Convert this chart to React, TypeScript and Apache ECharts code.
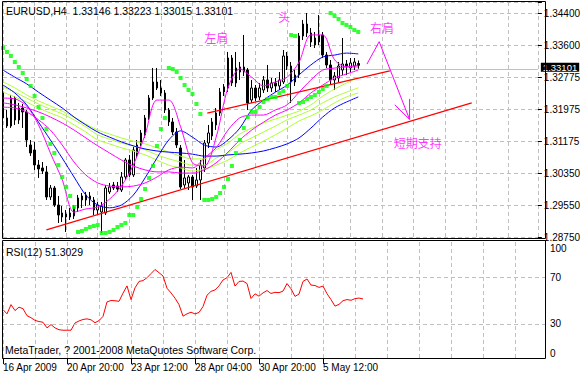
import React, { useEffect, useRef } from 'react';
import * as echarts from 'echarts';

const FONT = '"Liberation Sans Narrow", "Liberation Sans", Arial, sans-serif';
const CJK = '"Noto Sans CJK SC", sans-serif';
const GRID = '#c0c0c0';

const titleText = 'EURUSD,H4  1.33146 1.33223 1.33015 1.33101';
const rsiTitle = 'RSI(12) 51.3029';
const copyright = 'MetaTrader, ? 2001-2008 MetaQuotes Software Corp.';
const priceLabels = ['1.28750', '1.29550', '1.30350', '1.31175', '1.31975', '1.32775', '1.33600', '1.34400'];
const dateLabels = ['16 Apr 2009', '20 Apr 20:00', '23 Apr 12:00', '28 Apr 04:00', '30 Apr 20:00', '5 May 12:00'];
const dateTickBars = [0, 16, 32, 48, 64, 80];
const rsiTicks = [100, 70, 30, 0];
const rsiLevels = [70, 30];
const lastPrice = 1.33101;

const opens = [
  1.32425, 1.31766, 1.31563, 1.32273, 1.31715, 1.32019, 1.31918, 1.31082, 1.30955, 1.30575,
  1.30499, 1.30398, 1.29764, 1.29992, 1.29561, 1.29359, 1.29257, 1.29359, 1.29283, 1.29485,
  1.29688, 1.29688, 1.29789, 1.29688, 1.29435, 1.29384, 1.29359, 1.29891, 1.30068, 1.30043,
  1.29941, 1.30271, 1.30702, 1.30322, 1.30828, 1.31132, 1.31335, 1.31766, 1.32273, 1.32678,
  1.32526, 1.32399, 1.31969, 1.31665, 1.31411, 1.31006, 1.30068, 1.30119, 1.30271, 1.30043,
  1.30195, 1.30499, 1.31132, 1.3131, 1.31589, 1.31893, 1.32425, 1.32526, 1.33286, 1.32653,
  1.32931, 1.33058, 1.32982, 1.32222, 1.32526, 1.32298, 1.32475, 1.32729, 1.32526, 1.32653,
  1.32577, 1.32678, 1.33337, 1.33083, 1.32678, 1.32855, 1.33843, 1.34147, 1.33919, 1.33615,
  1.33691, 1.33869, 1.33362, 1.33109, 1.32729, 1.32779, 1.32982, 1.33134, 1.33033, 1.33083,
  1.33146,
];
const closes = [
  1.31766, 1.31563, 1.32273, 1.31715, 1.32019, 1.31918, 1.31208, 1.30879, 1.30575, 1.30474,
  1.30423, 1.29764, 1.29992, 1.29561, 1.29308, 1.29257, 1.29333, 1.29257, 1.29511, 1.29739,
  1.29789, 1.29815, 1.29713, 1.29435, 1.29561, 1.29536, 1.29992, 1.30017, 1.29992, 1.29967,
  1.30271, 1.30702, 1.30322, 1.30955, 1.31082, 1.31386, 1.31766, 1.32273, 1.32678, 1.32526,
  1.32399, 1.31969, 1.31665, 1.31411, 1.31082, 1.30017, 1.30246, 1.30271, 1.30017, 1.30195,
  1.30575, 1.31132, 1.31386, 1.31665, 1.31893, 1.32425, 1.32551, 1.33286, 1.32653, 1.33033,
  1.33058, 1.32931, 1.32146, 1.32526, 1.32273, 1.32526, 1.32729, 1.32526, 1.32653, 1.32577,
  1.32729, 1.33337, 1.33083, 1.32678, 1.32855, 1.33843, 1.34147, 1.33919, 1.33691, 1.33793,
  1.33869, 1.33362, 1.33109, 1.32729, 1.3283, 1.33083, 1.33134, 1.33083, 1.3316, 1.33185,
  1.33101,
];
const highs = [
  1.32526, 1.31969, 1.32349, 1.32323, 1.32146, 1.32121, 1.31969, 1.31208, 1.31158, 1.30702,
  1.30651, 1.3055, 1.30068, 1.30043, 1.29789, 1.29536, 1.29435, 1.29485, 1.29561, 1.29815,
  1.29865, 1.29891, 1.29891, 1.29764, 1.29637, 1.29637, 1.30068, 1.30119, 1.30144, 1.30144,
  1.30398, 1.30752, 1.30828, 1.31031, 1.31208, 1.31462, 1.31842, 1.32349, 1.33033, 1.33033,
  1.32729, 1.32475, 1.32019, 1.31766, 1.31513, 1.31082, 1.30702, 1.30322, 1.30322, 1.30499,
  1.30702, 1.31208, 1.31589, 1.31766, 1.32019, 1.32526, 1.32627, 1.33438, 1.33362, 1.33438,
  1.33185, 1.33869, 1.33033, 1.32729, 1.32602, 1.32653, 1.3283, 1.33109, 1.32779, 1.32779,
  1.32931, 1.33489, 1.33438, 1.33185, 1.32982, 1.33919, 1.34249, 1.34426, 1.34046, 1.33945,
  1.34375, 1.33945, 1.33438, 1.33235, 1.32931, 1.33185, 1.33793, 1.33235, 1.33286, 1.33286,
  1.33223,
];
const lows = [
  1.31589, 1.31513, 1.31513, 1.31589, 1.31614, 1.31513, 1.31031, 1.30803, 1.30448, 1.30246,
  1.30347, 1.29688, 1.29688, 1.29511, 1.29105, 1.2913, 1.28877, 1.29181, 1.29207, 1.29384,
  1.29485, 1.29536, 1.29561, 1.29308, 1.29333, 1.28852, 1.29308, 1.2984, 1.29941, 1.29891,
  1.29891, 1.30195, 1.30271, 1.30271, 1.30752, 1.31056, 1.31259, 1.31715, 1.32222, 1.32475,
  1.32323, 1.31893, 1.31563, 1.31335, 1.31006, 1.29967, 1.29992, 1.29941, 1.29688, 1.29992,
  1.29688, 1.30398, 1.31006, 1.31208, 1.31462, 1.31817, 1.32323, 1.32425, 1.32577, 1.32551,
  1.32729, 1.3283, 1.31969, 1.32146, 1.32197, 1.32222, 1.32399, 1.32425, 1.32425, 1.32425,
  1.32475, 1.32627, 1.32982, 1.32146, 1.32577, 1.32779, 1.33742, 1.33818, 1.33565, 1.33539,
  1.33615, 1.33286, 1.33033, 1.32602, 1.32475, 1.32678, 1.32855, 1.32855, 1.32931, 1.32982,
  1.33015,
];
const sar = [
  1.33539, 1.33438, 1.33337, 1.33185, 1.33058, 1.32906, 1.32754, 1.32577, 1.32323, 1.32045,
  1.31766, 1.31487, 1.31107, 1.30879, 1.30575, 1.30271, 1.30017, 1.29789, 1.29511, 1.28877,
  1.28903, 1.28953, 1.29004, 1.29029, 1.29055, 1.28852, 1.28852, 1.28877, 1.28928, 1.29004,
  1.29055, 1.29105, 1.29308, 1.29308, 1.29511, 1.29713, 1.29967, 1.30246, 1.3055, 1.31056,
  1.31487, 1.31766, 1.33033, 1.33008, 1.32931, 1.32779, 1.32602, 1.32475, 1.32374, 1.32121,
  1.31867, 1.29688, 1.29688, 1.29713, 1.29764, 1.29865, 1.30017, 1.3022, 1.3055, 1.30879,
  1.31208, 1.31513, 1.31791, 1.31918, 1.31918, 1.32045, 1.32171, 1.32247, 1.32298, 1.32298,
  1.32399, 1.3245, 1.32577, 1.33869, 1.33843, 1.32146, 1.32171, 1.32247, 1.32298, 1.32349,
  1.32425, 1.32501, 1.32577, 1.34426, 1.3435, 1.34275, 1.34173, 1.34123, 1.34072, 1.33996,
  1.33945,
];
const rsi = [
  42.2, 38.6, 46.5, 41.4, 44.3, 43, 37, 35.3, 33, 32,
  31.4, 26.6, 29.4, 26.6, 25, 24.6, 24.6, 24.6, 30.8, 32.5,
  33.8, 34.3, 33.5, 31, 32.8, 36.4, 48.8, 50, 49.8, 49.3,
  56.3, 62.5, 50.8, 60.8, 66.3, 67, 69.5, 73, 76.5, 73.8,
  71, 60.5, 56.5, 52, 46.5, 36.6, 38.6, 40, 38.5, 39.8,
  44.8, 54.5, 57.8, 59, 62.5, 67.5, 69.5, 74, 62.3, 66.3,
  66.6, 64.5, 51.7, 55.7, 53.7, 56.5, 58.5, 56, 57, 56.7,
  58, 64.5, 60, 53.5, 55.5, 66.3, 68.4, 63.2, 62.8, 61.2,
  62.3, 55.8, 50.8, 45.2, 46.7, 49.8, 50.8, 50.2, 51.6, 52.1,
  51.3,
];

const maBars = [0, 3, 6, 9, 12, 15, 18, 21, 24, 27, 30, 33, 36, 39, 42, 45, 48, 51, 54, 57, 60, 63, 66, 69, 72, 75, 78, 81, 84, 87, 90];
const maMagentaFast = [1.3227, 1.3225, 1.3207, 1.3159, 1.3088, 1.3020, 1.2938, 1.2946, 1.2951, 1.2971, 1.3004, 1.3057, 1.3134, 1.3222, 1.3222, 1.3154, 1.3063, 1.3055, 1.3128, 1.3253, 1.3301, 1.3280, 1.3258, 1.3268, 1.3280, 1.3318, 1.3387, 1.3387, 1.3324, 1.3306, 1.3311];
const maMagentaMid = [1.3204, 1.3202, 1.3192, 1.3172, 1.3146, 1.3108, 1.3065, 1.3032, 1.3012, 1.3004, 1.3002, 1.3004, 1.3012, 1.3027, 1.3045, 1.3052, 1.3050, 1.3075, 1.3101, 1.3146, 1.3177, 1.3184, 1.3184, 1.3197, 1.3210, 1.3242, 1.3273, 1.3298, 1.3303, 1.3306, 1.3306];
const maMagentaSlow = [1.3215, 1.3210, 1.3202, 1.3192, 1.3179, 1.3164, 1.3146, 1.3126, 1.3106, 1.3088, 1.3070, 1.3055, 1.3045, 1.3040, 1.3040, 1.3037, 1.3037, 1.3045, 1.3063, 1.3090, 1.3121, 1.3146, 1.3166, 1.3184, 1.3197, 1.3215, 1.3240, 1.3260, 1.3278, 1.3288, 1.3298];
const maGreen1 = [1.3268, 1.3253, 1.3235, 1.3220, 1.3207, 1.3194, 1.3179, 1.3161, 1.3146, 1.3136, 1.3126, 1.3118, 1.3111, 1.3101, 1.3090, 1.3080, 1.3073, 1.3073, 1.3096, 1.3113, 1.3136, 1.3151, 1.3164, 1.3174, 1.3184, 1.3194, 1.3210, 1.3232, 1.3250, 1.3265, 1.3280];
const maGreen2 = [1.3255, 1.3242, 1.3227, 1.3212, 1.3199, 1.3187, 1.3172, 1.3154, 1.3134, 1.3123, 1.3113, 1.3106, 1.3096, 1.3083, 1.3073, 1.3065, 1.3057, 1.3057, 1.3075, 1.3088, 1.3111, 1.3126, 1.3141, 1.3156, 1.3172, 1.3184, 1.3197, 1.3215, 1.3230, 1.3242, 1.3253];
const maGreen3 = [1.3242, 1.3230, 1.3217, 1.3202, 1.3189, 1.3177, 1.3159, 1.3141, 1.3121, 1.3111, 1.3101, 1.3093, 1.3083, 1.3070, 1.3057, 1.3050, 1.3042, 1.3047, 1.3057, 1.3070, 1.3088, 1.3103, 1.3118, 1.3134, 1.3151, 1.3169, 1.3182, 1.3197, 1.3215, 1.3230, 1.3240];
const maBlueFast = [1.3260, 1.3240, 1.3210, 1.3166, 1.3121, 1.3075, 1.3027, 1.2981, 1.2956, 1.2949, 1.2956, 1.2981, 1.3025, 1.3075, 1.3121, 1.3144, 1.3128, 1.3108, 1.3103, 1.3121, 1.3151, 1.3197, 1.3222, 1.3242, 1.3260, 1.3286, 1.3311, 1.3331, 1.3336, 1.3341, 1.3339];
const maBlueSlow = [1.3298, 1.3280, 1.3263, 1.3242, 1.3222, 1.3202, 1.3179, 1.3159, 1.3141, 1.3128, 1.3116, 1.3106, 1.3098, 1.3093, 1.3090, 1.3088, 1.3085, 1.3080, 1.3080, 1.3083, 1.3085, 1.3088, 1.3093, 1.3101, 1.3111, 1.3126, 1.3151, 1.3179, 1.3202, 1.3217, 1.3230];

const trendLow = [[11, 1.2893], [118.75, 1.3215]];
const trendHigh = [[51.75, 1.3189], [98, 1.3296]];
const arrowPath = [[92.2, 1.3313], [95.3, 1.3370], [103, 1.3173]];
const arrowHeadA = [[103, 1.3225], [103, 1.3173]];
const arrowHeadB = [[99.25, 1.3210], [103, 1.3173]];
const noteTexts = ['左肩', '头', '右肩', '短期支持'];
const noteBars = [54, 71.25, 96, 105.1];
const notePrices = [1.3381, 1.3433, 1.3407, 1.3115];

const splitStyle = { show: true, lineStyle: { color: GRID, type: [4, 3], width: 1 } };

function lineSeries(arr: number[], color: string) {
  return {
    type: 'line', xAxisIndex: 0, yAxisIndex: 0, data: maBars.map((b, k) => [b, arr[k]]),
    showSymbol: false, smooth: 0.3, silent: true, z: 3,
    lineStyle: { color, width: 1 },
  };
}
function straight(pts: number[][], color: string, width: number, z = 4) {
  return {
    type: 'line', xAxisIndex: 0, yAxisIndex: 0, data: pts, showSymbol: false, silent: true, z,
    lineStyle: { color, width }, clip: false,
  };
}

export default function App() {
  const ref = useRef<HTMLDivElement>(null);
  useEffect(() => {
    if (!ref.current) return;
    const chart = echarts.init(ref.current, undefined, { renderer: 'svg' });
    const option: any = {
      animation: false,
      backgroundColor: '#ffffff',
      grid: [
        { left: 3, right: 38, top: 2, height: 235, containLabel: false },
        { left: 3, right: 38, top: 242, height: 117, containLabel: false },
      ],
      xAxis: [
        { type: 'value', gridIndex: 0, min: 0, max: 135.5, interval: 8, axisLine: { show: false }, axisTick: { show: false }, axisLabel: { show: false }, splitLine: splitStyle },
        { type: 'value', gridIndex: 1, min: 0, max: 135.5, interval: 8, axisLine: { show: false }, axisTick: { show: false }, axisLabel: { show: false }, splitLine: splitStyle },
        {
          type: 'value', gridIndex: 1, min: 0, max: 135.5, interval: 16, position: 'bottom',
          axisLine: { show: false },
          axisTick: { show: true, length: 5, customValues: dateTickBars, lineStyle: { color: '#000' } },
          axisLabel: {
            show: true, customValues: dateTickBars, align: 'left', margin: 3, color: '#000', fontSize: 10, fontFamily: FONT,
            formatter: (v: number) => {
              const k = Math.round(v / 16);
              return Math.abs(v - k * 16) < 1e-6 && k >= 0 && k < dateLabels.length ? dateLabels[k] : '';
            },
          },
          splitLine: { show: false },
        },
      ],
      yAxis: [
        { type: 'value', gridIndex: 0, min: 1.2875, max: 1.34705, show: false, splitLine: { show: false } },
        {
          type: 'value', gridIndex: 0, min: 0, max: 7.367, interval: 1, position: 'right',
          axisLine: { show: false },
          axisTick: { show: true, length: 4, lineStyle: { color: '#000' } },
          axisLabel: {
            color: '#000', fontSize: 10, fontFamily: FONT, margin: 6, lineHeight: 10,
            formatter: (v: number) => {
              const k = Math.round(v);
              return Math.abs(v - k) < 1e-6 && k >= 0 && k < priceLabels.length ? priceLabels[k] : '';
            },
          },
          splitLine: splitStyle,
        },
        { type: 'value', gridIndex: 1, min: 0, max: 100, show: false, splitLine: { show: false } },
      ],
      series: [
        {
          type: 'candlestick', xAxisIndex: 0, yAxisIndex: 0, barWidth: 2, z: 2,
          encode: { x: 0, y: [1, 2, 3, 4] },
          data: opens.map((o, i) => [i, o, closes[i], lows[i], highs[i]]),
          itemStyle: { color: '#ffffff', color0: '#000000', borderColor: '#000000', borderColor0: '#000000', borderWidth: 1 },
          markLine: {
            silent: true, symbol: ['none', 'none'], animation: false, z: 1,
            lineStyle: { color: GRID, type: 'solid', width: 1 },
            label: {
              show: true, position: 'end', distance: 3, offset: [0, -2], formatter: lastPrice.toFixed(5),
              color: '#ffffff', backgroundColor: '#000000', padding: [0, 2, 0, 2], lineHeight: 9, fontSize: 9.5, fontFamily: FONT,
            },
            data: [{ yAxis: lastPrice }],
          },
        },
        lineSeries(maGreen3, '#adff2f'),
        lineSeries(maGreen2, '#adff2f'),
        lineSeries(maGreen1, '#adff2f'),
        lineSeries(maBlueSlow, '#0000ff'),
        lineSeries(maBlueFast, '#0000ff'),
        lineSeries(maMagentaSlow, '#ff00ff'),
        lineSeries(maMagentaMid, '#ff00ff'),
        lineSeries(maMagentaFast, '#ff00ff'),
        {
          type: 'scatter', xAxisIndex: 0, yAxisIndex: 0, symbol: 'rect', symbolSize: 4, z: 5, silent: true,
          itemStyle: { color: '#00ff00' },
          data: sar.map((p, i) => [i, p]),
        },
        straight(trendLow, '#ff0000', 1.2),
        straight(trendHigh, '#ff0000', 1.2),
        straight(arrowPath, '#ff00ff', 1),
        straight(arrowHeadA, '#ff00ff', 1),
        straight(arrowHeadB, '#ff00ff', 1),
        {
          type: 'scatter', xAxisIndex: 0, yAxisIndex: 0, symbolSize: 1, z: 6, silent: true,
          itemStyle: { color: 'rgba(0,0,0,0)' },
          label: { show: true, position: 'inside', formatter: '{b}', color: '#ff00ff', fontSize: 12, fontFamily: CJK },
          data: noteTexts.map((t, k) => ({ name: t, value: [noteBars[k], notePrices[k]] })),
        },
        {
          type: 'line', xAxisIndex: 1, yAxisIndex: 2, showSymbol: false, silent: true, z: 3,
          lineStyle: { color: '#ff0000', width: 1 },
          data: rsi.map((v, i) => [i, v]),
          markLine: {
            silent: true, symbol: ['none', 'none'], label: { show: false },
            lineStyle: { color: GRID, type: [4, 3], width: 1 },
            data: rsiLevels.map((v) => ({ yAxis: v })),
          },
        },
      ],
    };
    chart.setOption(option);

    const texts: any[] = [
      { type: 'rect', shape: { x: 2.5, y: 1.5, width: 543, height: 237 }, style: { fill: 'none', stroke: '#000', lineWidth: 1 }, z: 10 },
      { type: 'rect', shape: { x: 2.5, y: 240.5, width: 543, height: 118 }, style: { fill: 'none', stroke: '#000', lineWidth: 1 }, z: 10 },
      { type: 'text', x: 6, y: 11, z: 10, style: { text: titleText, fill: '#000', fontSize: 10.5, fontFamily: FONT, verticalAlign: 'middle', align: 'left' } },
      { type: 'text', x: 6, y: 252, z: 10, style: { text: rsiTitle, fill: '#000', fontSize: 10.5, fontFamily: FONT, verticalAlign: 'middle', align: 'left' } },
      { type: 'text', x: 5, y: 350, z: 10, style: { text: copyright, fill: '#000', fontSize: 10.5, fontFamily: FONT, verticalAlign: 'middle', align: 'left' } },
    ];
    rsiTicks.forEach((v) => {
      let y = chart.convertToPixel({ yAxisIndex: 2 } as any, v) as unknown as number;
      y = Math.min(Math.max(y, 248), 353);
      texts.push({ type: 'text', x: 550, y, z: 10, style: { text: String(v), fill: '#000', fontSize: 10, fontFamily: FONT, verticalAlign: 'middle', align: 'left' } });
    });
    chart.setOption({ graphic: texts });

    return () => chart.dispose();
  }, []);
  return <div ref={ref} style={{ position: 'fixed', left: 0, top: 0, width: 583, height: 376, background: '#fff' }} />;
}
